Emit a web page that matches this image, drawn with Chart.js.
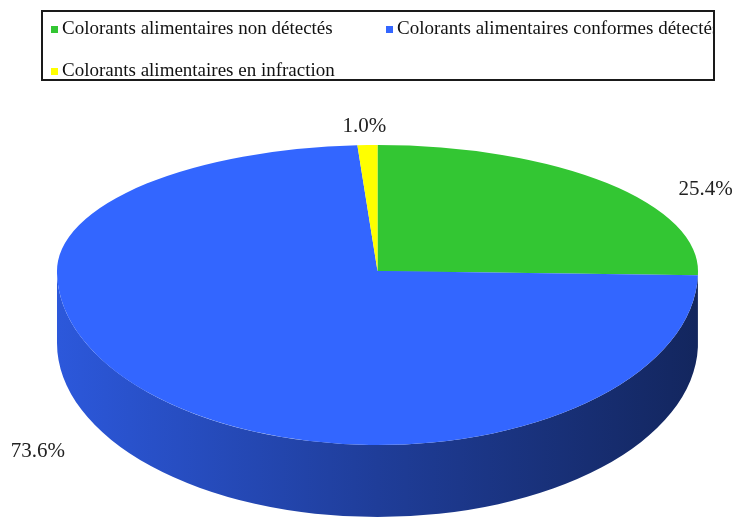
<!DOCTYPE html>
<html>
<head>
<meta charset="utf-8">
<script src="https://cdn.jsdelivr.net/npm/chart.js@4/dist/chart.umd.min.js"></script>
<style>
  html, body { margin: 0; padding: 0; background: #fff; }
  canvas { display: block; }
</style>
</head>
<body>
<canvas id="pieChart" width="737" height="518"></canvas>
<script>
// ====== Données ======
const categories = [
  'Colorants alimentaires non détectés',
  'Colorants alimentaires conformes détectés',
  'Colorants alimentaires en infraction'
];
const percentages = [25.4, 73.6, 1.0];
const sliceColors = ['#33c633', '#3366ff', '#ffff00'];

// assombrit une couleur hex (côté du camembert 3D)
function shade(hex, f) {
  const n = parseInt(hex.slice(1), 16);
  const r = Math.round(((n >> 16) & 255) * f);
  const g = Math.round(((n >> 8) & 255) * f);
  const b = Math.round((n & 255) * f);
  return `rgb(${r},${g},${b})`;
}

// géométrie de l'ellipse (avec un peu de perspective : moitié arrière plus plate)
function pieGeom(chart) {
  const area = chart.chartArea;
  const arc = chart.getDatasetMeta(0).data[0];
  const o = chart.options.plugins.pie3d;
  const rx = (area.right - area.left) / 2;
  const ry = (area.bottom - area.top) / 2;
  return {
    cx: arc.x, cy0: arc.y, R: arc.outerRadius, rx,
    ryTop: ry * (1 - o.tilt), ryBot: ry * (1 + o.tilt),
    cyV: arc.y - ry * o.tilt, depth: o.depth
  };
}

// ====== Effet 3D ======
const pie3d = {
  id: 'pie3d',
  beforeDatasetsDraw(chart) {
    const ctx = chart.ctx;
    const g = pieGeom(chart);
    const meta = chart.getDatasetMeta(0);

    // parois visibles (moitié avant, angles 0..PI)
    meta.data.forEach((arc, i) => {
      const a = Math.max(arc.startAngle, 0);
      const b = Math.min(arc.endAngle, Math.PI);
      if (b <= a) return;
      const col = chart.data.datasets[0].backgroundColor[i];
      const grad = ctx.createLinearGradient(g.cx - g.rx, 0, g.cx + g.rx, 0);
      grad.addColorStop(0, shade(col, 0.86));
      grad.addColorStop(0.5, shade(col, 0.6));
      grad.addColorStop(1, shade(col, 0.37));
      ctx.save();
      ctx.beginPath();
      ctx.ellipse(g.cx, g.cyV, g.rx, g.ryBot, 0, a, b);
      ctx.ellipse(g.cx, g.cyV + g.depth, g.rx, g.ryBot, 0, b, a, true);
      ctx.closePath();
      ctx.fillStyle = grad;
      ctx.fill();
      ctx.restore();
    });

    // moitié arrière du dessus
    ctx.save();
    ctx.beginPath();
    ctx.rect(0, 0, chart.width, g.cyV + 1);
    ctx.clip();
    ctx.translate(g.cx, g.cyV);
    ctx.scale(g.rx / g.R, g.ryTop / g.R);
    ctx.translate(-g.cx, -g.cy0);
  },
  afterDatasetsDraw(chart) {
    const ctx = chart.ctx;
    ctx.restore();
    const g = pieGeom(chart);
    // moitié avant du dessus
    ctx.save();
    ctx.beginPath();
    ctx.rect(0, g.cyV, chart.width, chart.height);
    ctx.clip();
    ctx.translate(g.cx, g.cyV);
    ctx.scale(g.rx / g.R, g.ryBot / g.R);
    ctx.translate(-g.cx, -g.cy0);
    chart.getDatasetMeta(0).controller.draw();
    ctx.restore();
  }
};

// ====== Étiquettes de pourcentage ======
const pctLabels = {
  id: 'pctLabels',
  afterDraw(chart, args, opts) {
    const ctx = chart.ctx;
    const g = pieGeom(chart);
    const meta = chart.getDatasetMeta(0);
    ctx.save();
    ctx.font = '21px "Liberation Serif", "Times New Roman", serif';
    ctx.fillStyle = '#222';
    meta.data.forEach((arc, i) => {
      const mid = (arc.startAngle + arc.endAngle) / 2;
      const c = Math.cos(mid), s = Math.sin(mid);
      const front = s > 0;
      let x = g.cx + g.rx * c + c * (opts.pad + (front ? 30 : 0));
      let y = g.cyV + (front ? g.ryBot : g.ryTop) * s;
      if (front) y += g.depth * 0.77;
      if (Math.abs(c) < 0.3) {
        ctx.textAlign = 'center';
        ctx.textBaseline = s < 0 ? 'bottom' : 'top';
        y += s < 0 ? -8 : 8;
      } else {
        ctx.textAlign = c > 0 ? 'left' : 'right';
        ctx.textBaseline = 'middle';
        if (!front) y += 6;
      }
      ctx.fillText(chart.data.datasets[0].data[i].toFixed(1) + '%', x, y);
    });
    ctx.restore();
  }
};

// ====== Légende encadrée ======
const boxLegend = {
  id: 'boxLegend',
  afterDraw(chart, args, o) {
    const ctx = chart.ctx;
    ctx.save();
    ctx.strokeStyle = '#1a1a1a';
    ctx.lineWidth = 2;
    ctx.strokeRect(o.left, o.top, o.width, o.height);
    ctx.beginPath();
    ctx.rect(o.left, o.top, o.width - 1, o.height);
    ctx.clip();
    ctx.font = '19px "Liberation Serif", "Times New Roman", serif';
    ctx.textBaseline = 'middle';
    chart.data.labels.forEach((label, i) => {
      const x = o.columns[i % 2];
      const y = o.rows[Math.floor(i / 2)];
      ctx.fillStyle = chart.data.datasets[0].backgroundColor[i];
      ctx.fillRect(x, y - 3.5, 7, 7);
      ctx.fillStyle = '#111';
      ctx.fillText(label, x + 11, y);
    });
    ctx.restore();
  }
};

const ctx = document.getElementById('pieChart').getContext('2d');
new Chart(ctx, {
  type: 'pie',
  data: {
    labels: categories,
    datasets: [{
      data: percentages,
      backgroundColor: sliceColors,
      borderWidth: 0,
      clip: false
    }]
  },
  options: {
    responsive: false,
    animation: false,
    events: [],
    layout: {
      padding: { top: 145, bottom: 73, left: 57, right: 39 }
    },
    plugins: {
      legend: { display: false },
      tooltip: { enabled: false },
      pie3d: { depth: 72, tilt: 0.16 },
      pctLabels: { pad: 100 },
      boxLegend: {
        left: 42, top: 11, width: 672, height: 69,
        columns: [51, 386],
        rows: [29.5, 71.5]
      }
    }
  },
  plugins: [pie3d, pctLabels, boxLegend]
});
</script>
</body>
</html>
